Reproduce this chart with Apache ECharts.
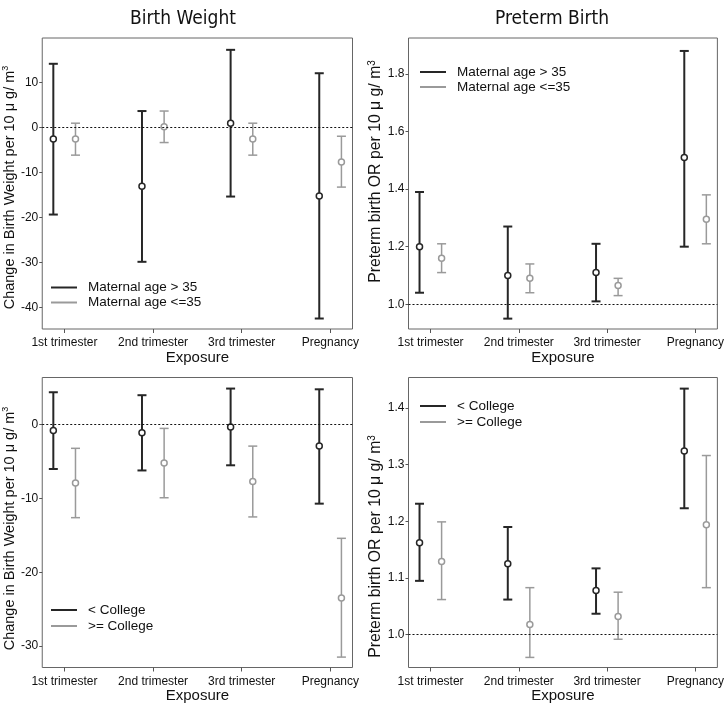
<!DOCTYPE html>
<html>
<head>
<meta charset="utf-8">
<script src="https://cdn.jsdelivr.net/npm/echarts@6/dist/echarts.min.js"></script>
<style>
html,body{margin:0;padding:0;background:#fff;}
#chart{width:727px;height:705px;}
</style>
</head>
<body>
<div id="chart"></div>
<script>
// ---- data ----
var categories = ['1st trimester', '2nd trimester', '3rd trimester', 'Pregnancy'];

// Birth weight, maternal age
var bwAgeOldEst  = [-2.5, -13.0, 1.0, -15.2];
var bwAgeOldLow  = [-19.3, -29.8, -15.3, -42.4];
var bwAgeOldHigh = [14.2, 3.7, 17.3, 12.1];
var bwAgeYngEst  = [-2.5, 0.2, -2.5, -7.6];
var bwAgeYngLow  = [-6.1, -3.3, -6.1, -13.2];
var bwAgeYngHigh = [1.0, 3.7, 1.0, -1.9];

// Preterm birth, maternal age
var ptAgeOldEst  = [1.20, 1.10, 1.11, 1.51];
var ptAgeOldLow  = [1.04, 0.95, 1.01, 1.20];
var ptAgeOldHigh = [1.39, 1.27, 1.21, 1.88];
var ptAgeYngEst  = [1.16, 1.09, 1.065, 1.295];
var ptAgeYngLow  = [1.11, 1.04, 1.03, 1.21];
var ptAgeYngHigh = [1.21, 1.14, 1.09, 1.38];

// Birth weight, education
var bwEdLoEst  = [-0.8, -1.1, -0.3, -2.9];
var bwEdLoLow  = [-6.0, -6.2, -5.5, -10.7];
var bwEdLoHigh = [4.4, 4.0, 4.9, 4.8];
var bwEdHiEst  = [-7.9, -5.2, -7.7, -23.5];
var bwEdHiLow  = [-12.6, -9.9, -12.5, -31.5];
var bwEdHiHigh = [-3.2, -0.5, -2.9, -15.4];

// Preterm birth, education
var ptEdLoEst  = [1.162, 1.125, 1.078, 1.324];
var ptEdLoLow  = [1.095, 1.062, 1.037, 1.223];
var ptEdLoHigh = [1.231, 1.19, 1.117, 1.434];
var ptEdHiEst  = [1.129, 1.018, 1.032, 1.194];
var ptEdHiLow  = [1.062, 0.960, 0.992, 1.083];
var ptEdHiHigh = [1.199, 1.083, 1.075, 1.316];

var bwTicksAge = [-40, -30, -20, -10, 0, 10];
var ptTicksAge = [1.0, 1.2, 1.4, 1.6, 1.8];
var bwTicksEd  = [-30, -20, -10, 0];
var ptTicksEd  = [1.0, 1.1, 1.2, 1.3, 1.4];

var legAge = ['Maternal age > 35', 'Maternal age <=35'];
var legEd  = ['< College', '>= College'];

// ---- styling ----
var DARK = '#262626', LIGHT = '#9a9a9a';
var FONT = 'Liberation Sans';
var TITLE_FONT = "'DejaVu Sans Condensed', 'Liberation Sans', sans-serif";
var dodge = 0.125;

function build(est, low, high, side) {
  return categories.map(function (c, i) {
    return [i + 1 + side * dodge, low[i], est[i], high[i]];
  });
}

function makeRender(color, lw) {
  return function (params, api) {
    var x = api.value(0);
    var pLow = api.coord([x, api.value(1)]);
    var pMid = api.coord([x, api.value(2)]);
    var pHigh = api.coord([x, api.value(3)]);
    var cap = 4.5;
    var st = {stroke: color, lineWidth: lw, fill: null};
    return {
      type: 'group',
      children: [
        {type: 'line', shape: {x1: pLow[0], y1: pLow[1], x2: pHigh[0], y2: pHigh[1]}, style: st},
        {type: 'line', shape: {x1: pLow[0] - cap, y1: pLow[1], x2: pLow[0] + cap, y2: pLow[1]}, style: st},
        {type: 'line', shape: {x1: pHigh[0] - cap, y1: pHigh[1], x2: pHigh[0] + cap, y2: pHigh[1]}, style: st},
        {type: 'circle', shape: {cx: pMid[0], cy: pMid[1], r: 3}, style: {fill: '#fff', stroke: color, lineWidth: 1.5}}
      ]
    };
  };
}

function series(name, idx, data, color, lw, refVal) {
  var s = {
    name: name, type: 'custom', xAxisIndex: idx, yAxisIndex: idx,
    renderItem: makeRender(color, lw),
    itemStyle: {color: color},
    encode: {x: 0, y: [1, 2, 3]},
    data: data, animation: false, z: 3
  };
  if (refVal !== undefined) {
    s.markLine = {
      silent: true, symbol: ['none', 'none'], animation: false,
      label: {show: false},
      lineStyle: {color: '#111', type: [2, 2], width: 1.2},
      data: [{yAxis: refVal}]
    };
  }
  return s;
}

var grids = [
  {left: 39.5, top: 38, width: 313, height: 291},
  {left: 408.5, top: 38, width: 313, height: 291},
  {left: 39.5, top: 377.5, width: 313, height: 290},
  {left: 408.5, top: 377.5, width: 313, height: 290}
].map(function (g) {
  g.show = true; g.borderColor = '#666'; g.borderWidth = 1; g.backgroundColor = '#fff';
  return g;
});

var xAxes = [0, 1, 2, 3].map(function (i) {
  return {
    type: 'value', gridIndex: i, min: 0.75, max: 4.25, position: 'bottom',
    name: 'Exposure', nameLocation: 'middle', nameGap: 21,
    nameTextStyle: {fontFamily: FONT, fontSize: 15, color: '#111'},
    axisLine: {show: false, onZero: false},
    splitLine: {show: false},
    axisTick: {show: true, length: 4, lineStyle: {color: '#555'}, customValues: [1, 2, 3, 4]},
    axisLabel: {
      customValues: [1, 2, 3, 4], margin: 8, fontFamily: FONT, fontSize: 12, color: '#111',
      formatter: function (v) { return categories[Math.round(v) - 1]; }
    }
  };
});

function yAxis(i, min, max, ticks, name, fmt, fs, gap, pad) {
  return {
    type: 'value', gridIndex: i, min: min, max: max,
    name: name, nameLocation: 'middle', nameGap: gap,
    nameTextStyle: {fontFamily: FONT, fontSize: fs, color: '#111', padding: pad,
      rich: {sup: {fontFamily: FONT, fontSize: Math.round(fs * 0.65), color: '#111', padding: [0, 0, 8, 0]}}},
    axisLine: {show: false, onZero: false},
    splitLine: {show: false},
    axisTick: {show: true, length: 3, lineStyle: {color: '#555'}, customValues: ticks},
    axisLabel: {customValues: ticks, margin: 4, fontFamily: FONT, fontSize: 12, color: '#111', formatter: fmt}
  };
}
var intFmt = function (v) { return String(Math.round(v)); };
var decFmt = function (v) { return v.toFixed(1); };

var bwName = 'Change in Birth Weight per 10 \u03bc g/ m{sup|3}';
var ptName = 'Preterm birth OR per 10 \u03bc g/ m{sup|3}';

var yAxes = [
  yAxis(0, -44.73, 19.93, bwTicksAge, bwName, intFmt, 14.5, 16, [0, 8, 0, 0]),
  yAxis(1, 0.914, 1.925, ptTicksAge, ptName, decFmt, 15.8, 15, [0, 0, 0, 24]),
  yAxis(2, -32.91, 6.40, bwTicksEd, bwName, intFmt, 14.5, 16, [0, 12, 0, 0]),
  yAxis(3, 0.9422, 1.4536, ptTicksEd, ptName, decFmt, 15.8, 15, [0, 48, 0, 0])
];

function legend(data, left, top, lh) {
  return {
    data: data.map(function (n) { return {name: n, icon: 'rect'}; }),
    orient: 'vertical', left: left, top: top, padding: 0, itemGap: 0,
    itemWidth: 26, itemHeight: 2, selectedMode: false,
    textStyle: {fontFamily: FONT, fontSize: 13.5, color: '#111', lineHeight: lh, padding: [0, 0, 0, 6]}
  };
}

var option = {
  backgroundColor: '#fff',
  animation: false,
  title: [
    {text: 'Birth Weight', left: 178, top: 5, textAlign: 'center',
     textStyle: {fontFamily: TITLE_FONT, fontSize: 19, fontWeight: 'normal', color: '#111'}},
    {text: 'Preterm Birth', left: 547, top: 5, textAlign: 'center',
     textStyle: {fontFamily: TITLE_FONT, fontSize: 19, fontWeight: 'normal', color: '#111'}}
  ],
  grid: grids,
  xAxis: xAxes,
  yAxis: yAxes,
  legend: [
    legend(legAge, 51, 280, 15),
    legend(legAge, 420, 64.5, 15),
    legend(legEd, 51, 602, 16),
    legend(legEd, 420, 398, 16)
  ],
  series: [
    series(legAge[0], 0, build(bwAgeOldEst, bwAgeOldLow, bwAgeOldHigh, -1), DARK, 2, 0),
    series(legAge[1], 0, build(bwAgeYngEst, bwAgeYngLow, bwAgeYngHigh, 1), LIGHT, 1.5),
    series(legAge[0], 1, build(ptAgeOldEst, ptAgeOldLow, ptAgeOldHigh, -1), DARK, 2, 1),
    series(legAge[1], 1, build(ptAgeYngEst, ptAgeYngLow, ptAgeYngHigh, 1), LIGHT, 1.5),
    series(legEd[0], 2, build(bwEdLoEst, bwEdLoLow, bwEdLoHigh, -1), DARK, 2, 0),
    series(legEd[1], 2, build(bwEdHiEst, bwEdHiLow, bwEdHiHigh, 1), LIGHT, 1.5),
    series(legEd[0], 3, build(ptEdLoEst, ptEdLoLow, ptEdLoHigh, -1), DARK, 2, 1),
    series(legEd[1], 3, build(ptEdHiEst, ptEdHiLow, ptEdHiHigh, 1), LIGHT, 1.5)
  ]
};

var chart = echarts.init(document.getElementById('chart'), null, {renderer: 'canvas'});
chart.setOption(option);
</script>
</body>
</html>
